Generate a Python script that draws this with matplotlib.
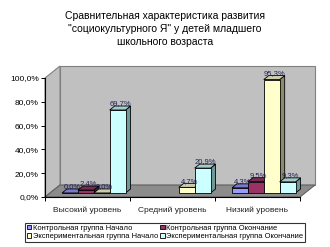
import matplotlib
matplotlib.use('Agg')
import matplotlib.pyplot as plt
from matplotlib.patches import Polygon, Patch

plt.rcParams['font.family'] = ['Liberation Sans', 'DejaVu Sans']

categories = ['Высокий уровень', 'Средний уровень', 'Низкий уровень']
series_names = ['Контрольная группа Начало', 'Контрольная группа Окончание',
                'Экспериментальная группа Начало', 'Экспериментальная группа Окончание']
control_start = [0.0, None, 4.3]
control_end = [2.4, None, 9.5]
exp_start = [0.0, 4.7, 95.3]
exp_end = [69.7, 20.9, 9.3]
yticks = [0, 20, 40, 60, 80, 100]
title = ('Сравнительная характеристика развития\n'
         '"социокультурного Я" у детей младшего\n'
         'школьного возраста')

series = [control_start, control_end, exp_start, exp_end]
front_colors = ['#9999ff', '#993366', '#ffffcc', '#ccffff']
side_colors = ['#5c5c99', '#5c1f3d', '#8c8c6c', '#6f9999']
top_colors = ['#7a7acc', '#7a2952', '#ccccaa', '#a3cccc']

W, H = 330, 247
fig = plt.figure(figsize=(W / 100, H / 100), dpi=100)
fig.patch.set_facecolor('white')

fig.text(0.5, 1 - 11 / H, title, ha='center', va='top', fontsize=7.5,
         linespacing=1.35, multialignment='center')

ax_l, ax_r, ax_b, ax_t = 45, 300, 197, 78
ax = fig.add_axes([ax_l / W, 1 - ax_b / H, (ax_r - ax_l) / W, (ax_b - ax_t) / H])
ax.set_xlim(0, 3)
ax.set_ylim(0, 100)
ax.patch.set_alpha(0)

px_x = 3 / (ax_r - ax_l)
px_y = 100 / (ax_b - ax_t)
wdx, wdy = 15 * px_x, 12 * px_y  # wall depth
bdx, bdy = 5 * px_x, 4 * px_y    # bar depth
base = 3.4

# walls and floor
ax.add_patch(Polygon([(wdx, wdy), (3 + wdx, wdy), (3 + wdx, 100 + wdy), (wdx, 100 + wdy)],
                     closed=True, facecolor='#c0c0c0', edgecolor='#808080', lw=0.8,
                     clip_on=False, zorder=0))
ax.add_patch(Polygon([(0, 0), (wdx, wdy), (wdx, 100 + wdy), (0, 100)],
                     closed=True, facecolor='#c0c0c0', edgecolor='#808080', lw=0.8,
                     clip_on=False, zorder=0))
ax.add_patch(Polygon([(0, 0), (3, 0), (3 + wdx, wdy), (wdx, wdy)],
                     closed=True, facecolor='#8c8c8c', edgecolor='#606060', lw=0.8,
                     clip_on=False, zorder=0.5))

w = 0.187
for j, vals in enumerate(series):
    for i, v in enumerate(vals):
        if v is None:
            continue
        x0 = i + 0.2 + j * w
        ax.bar(x0, v, width=w, bottom=base, align='edge', color=front_colors[j],
               edgecolor='black', lw=0.6, zorder=3 + j * 0.01, clip_on=False)
        ax.add_patch(Polygon([(x0 + w, base), (x0 + w + bdx, base + bdy),
                              (x0 + w + bdx, base + v + bdy), (x0 + w, base + v)],
                             closed=True, facecolor=side_colors[j], edgecolor='black',
                             lw=0.6, zorder=2.9 + j * 0.01, clip_on=False))
        ax.add_patch(Polygon([(x0, base + v), (x0 + bdx, base + v + bdy),
                              (x0 + w + bdx, base + v + bdy), (x0 + w, base + v)],
                             closed=True, facecolor=top_colors[j], edgecolor='black',
                             lw=0.6, zorder=3 + j * 0.01, clip_on=False))
        lbl = f'{v:.1f}%'.replace('.', ',')
        ax.text(x0 + w / 2 + bdx / 2, base + v + bdy - 1, lbl, ha='center', va='bottom',
                fontsize=5.5, color='#22225a', zorder=5, clip_on=False)

for s in ['top', 'right']:
    ax.spines[s].set_visible(False)
for s in ['left', 'bottom']:
    ax.spines[s].set_color('black')
    ax.spines[s].set_linewidth(0.8)
    ax.spines[s].set_zorder(6)

ax.set_yticks(yticks)
ax.set_yticklabels([f'{t:.1f}%'.replace('.', ',') for t in yticks], fontsize=6)
ax.set_xticks([0, 1, 2, 3])
ax.set_xticklabels([])
ax.tick_params(axis='both', direction='out', length=3, width=0.7, pad=1.5, colors='black')

for i, c in enumerate(categories):
    ax.text(i + 0.5, -11, c, ha='center', va='center', fontsize=6, color='#222222',
            clip_on=False)

handles = [Patch(facecolor=front_colors[k], edgecolor='black', lw=0.6) for k in [0, 2, 1, 3]]
labels = [series_names[k] for k in [0, 2, 1, 3]]
leg = fig.legend(handles, labels, ncol=2, loc='lower left',
                 bbox_to_anchor=(25 / W, 5 / H, 280 / W, 25 / H), mode='expand',
                 fontsize=5.4, frameon=True, fancybox=False, edgecolor='black',
                 handlelength=0.6, handleheight=0.6, handletextpad=0.2,
                 borderpad=0.25, labelspacing=0.2, columnspacing=0.3, borderaxespad=0)
leg.get_frame().set_linewidth(0.8)

fig.savefig('out.png', dpi=100)
